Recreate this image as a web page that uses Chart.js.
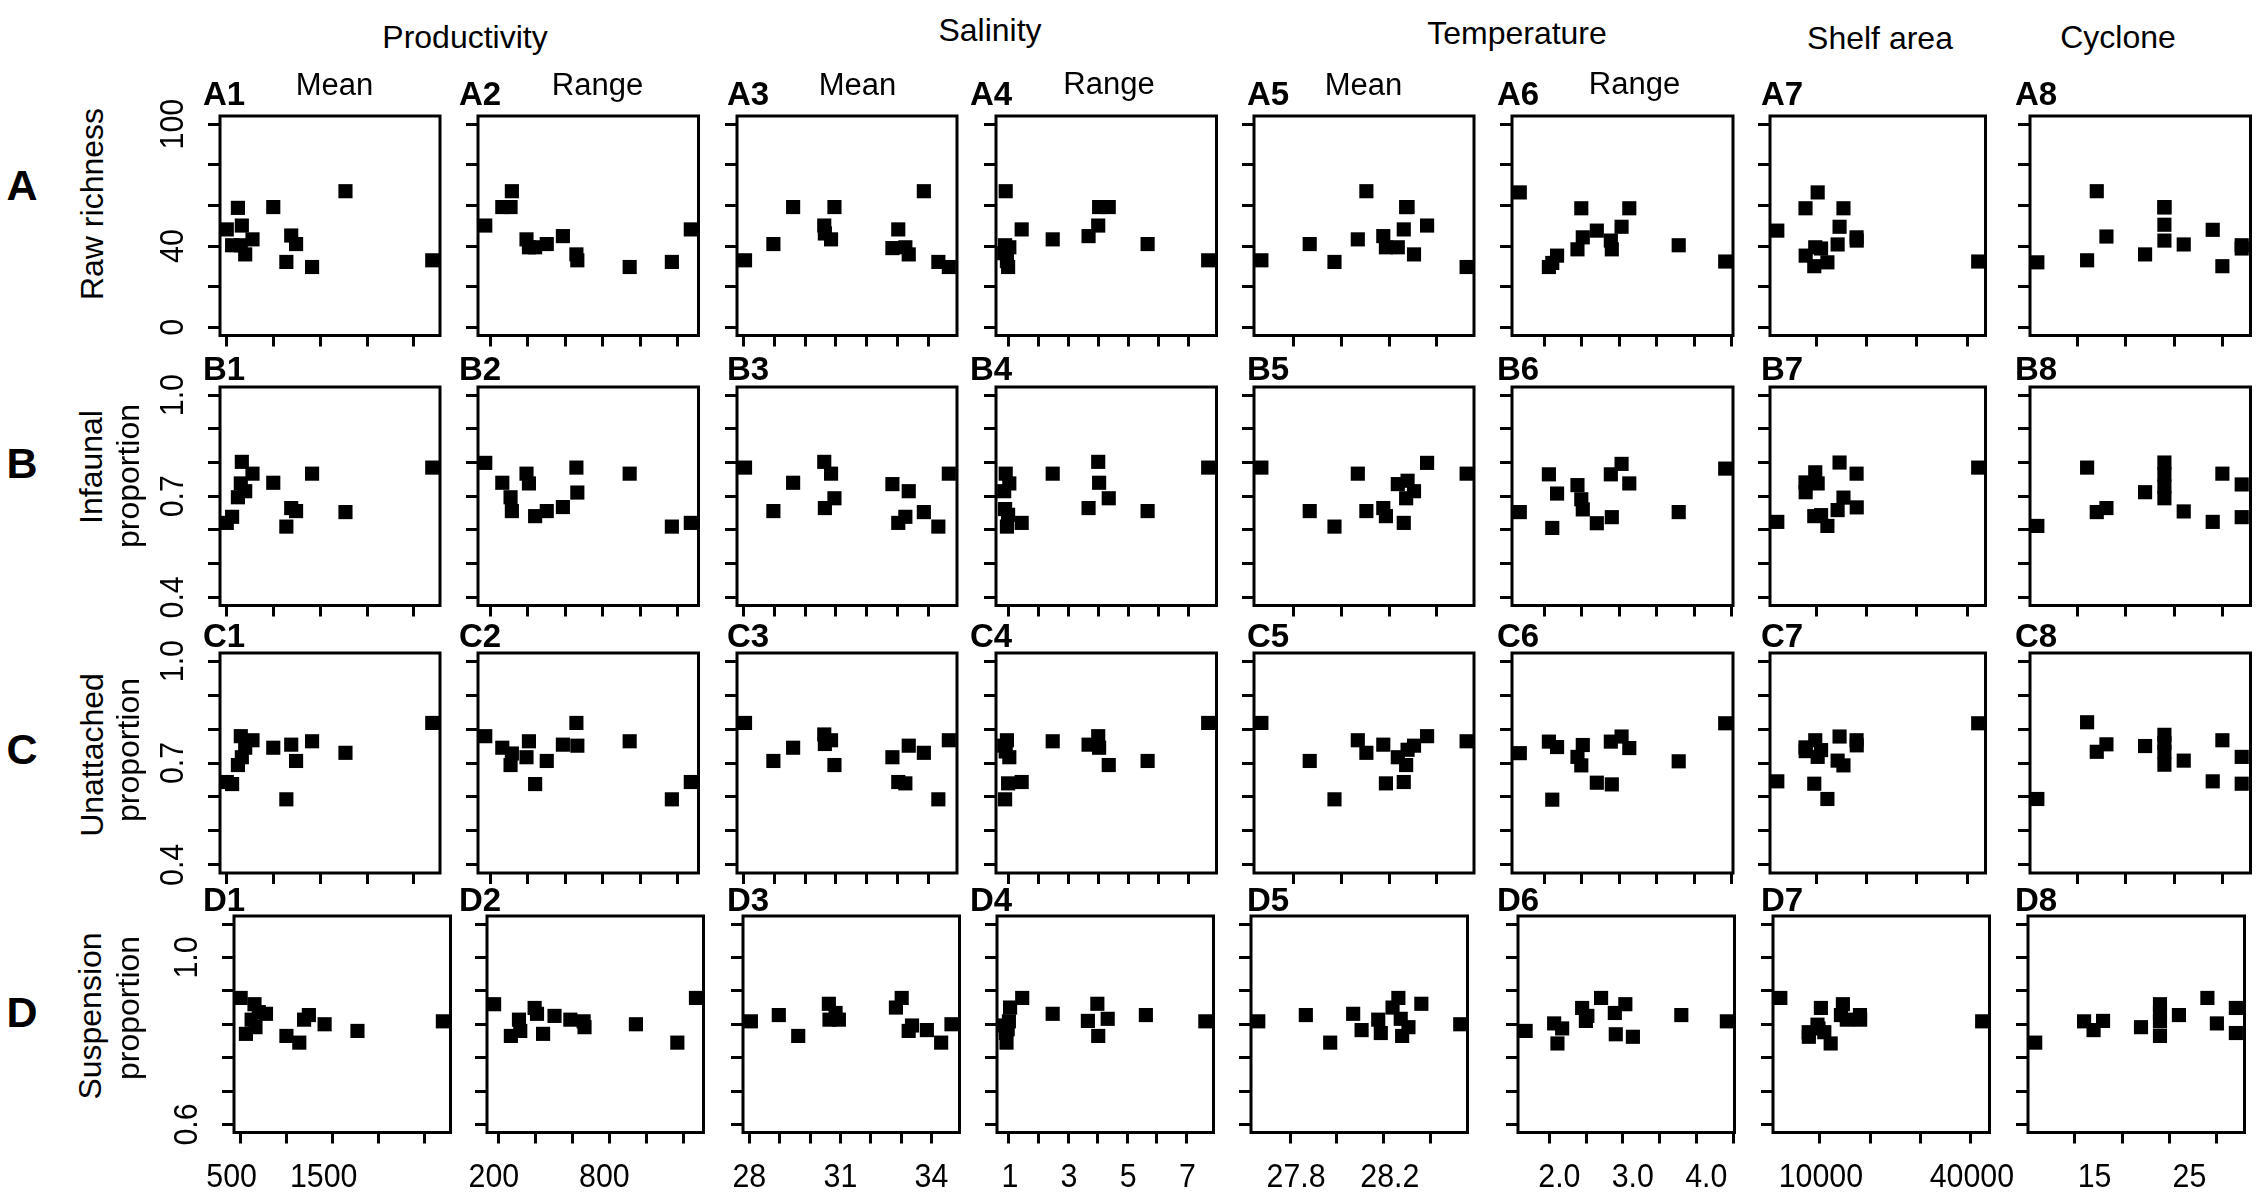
<!DOCTYPE html>
<html><head><meta charset="utf-8">
<script src="https://cdn.jsdelivr.net/npm/chart.js@4.4.1/dist/chart.umd.min.js"></script>
<style>
html,body{margin:0;padding:0;background:#fff;}
#fig{position:relative;width:2261px;height:1198px;overflow:hidden;background:#fff;font-family:"Liberation Sans",Arial,sans-serif;color:#000;}
.t{position:absolute;white-space:nowrap;line-height:1;transform:translate(-50%,-50%);font-size:32px;}
.st{position:absolute;white-space:nowrap;line-height:1;transform:translate(-50%,-50%);font-size:31px;}
.pl{position:absolute;white-space:nowrap;line-height:1;font-weight:bold;font-size:33px;transform:translate(0,-50%);}
.rl{position:absolute;white-space:nowrap;line-height:1;font-weight:bold;font-size:43px;transform:translate(-50%,-50%);}
.yt{position:absolute;white-space:nowrap;line-height:1;font-size:32px;transform:translate(-50%,-50%) rotate(-90deg);}
canvas{position:absolute;}
</style></head><body><div id="fig"></div>
<script>
// ---------------- DATA ----------------
// x values per column (sites ordered by x within each column)
const xProdMean  = [500, 557, 619, 650, 661, 697, 775, 997, 1137, 1189, 1241, 1412, 1769, 2697];
const xProdRange = [174, 265, 309, 316, 394, 407, 440, 502, 588, 660, 665, 944, 1169, 1270];
const xSalMean   = [28.05, 28.97, 29.61, 30.62, 30.64, 30.84, 30.95, 32.83, 33.02, 33.25, 33.36, 33.85, 34.32, 34.66];
const xSalRange  = [0.87, 0.90, 0.92, 0.96, 1.00, 1.04, 1.45, 2.48, 3.67, 3.99, 4.02, 4.34, 5.63, 7.64];
const xTempMean  = [27.664, 27.867, 27.971, 28.069, 28.105, 28.176, 28.187, 28.237, 28.262, 28.272, 28.278, 28.305, 28.36, 28.526];
const xTempRange = [1.677, 2.065, 2.11, 2.174, 2.446, 2.497, 2.517, 2.704, 2.891, 2.904, 3.034, 3.137, 3.796, 4.416];
const xShelf     = [2136, 7767, 7800, 9515, 9709, 10194, 10874, 12136, 14175, 14563, 15340, 17961, 17990, 42233];
const xCyclone   = [10.85, 16, 17, 18, 22, 24, 24, 24, 24, 26, 29, 30, 32, 32];

// Row A: raw richness
const yA1 = [48.2, 40.4, 58.8, 40.4, 50.1, 35.9, 43.3, 59.2, 32.2, 45.2, 41.0, 29.7, 67.0, 33.0];
const yA2 = [50.1, 59.2, 59.2, 67.0, 43.3, 39.4, 39.4, 41.0, 44.9, 35.9, 33.0, 29.7, 32.2, 48.2];
const yA3 = [33.0, 41.0, 59.2, 50.1, 46.2, 43.3, 59.2, 39.0, 48.2, 39.4, 35.9, 67.0, 32.2, 29.7];
const yA4 = [36.5, 40.4, 67.0, 32.6, 29.7, 39.4, 48.2, 43.3, 44.9, 50.1, 59.2, 59.2, 41.0, 33.0];
const yA5 = [33.0, 41.0, 32.2, 43.3, 67.0, 44.9, 39.4, 39.4, 48.2, 59.2, 59.2, 35.9, 50.1, 29.7];
const yA6 = [66.4, 29.7, 31.7, 35.3, 38.4, 58.6, 44.3, 47.6, 42.7, 38.4, 49.5, 58.6, 40.4, 32.4];
const yA7 = [47.6, 58.6, 35.3, 30.1, 39.4, 66.4, 38.8, 32.0, 40.8, 49.5, 58.6, 44.3, 42.7, 32.4];
const yA8 = [32.0, 33.0, 67.0, 44.7, 35.9, 59.2, 59.0, 50.5, 42.7, 40.8, 48.0, 30.1, 38.8, 40.4];
// Row B: infaunal proportion
const yB1 = [0.621, 0.639, 0.697, 0.738, 0.802, 0.715, 0.767, 0.740, 0.610, 0.665, 0.656, 0.767, 0.653, 0.785];
const yB2 = [0.799, 0.740, 0.697, 0.656, 0.767, 0.738, 0.641, 0.656, 0.668, 0.785, 0.711, 0.767, 0.610, 0.621];
const yB3 = [0.785, 0.656, 0.740, 0.802, 0.665, 0.767, 0.694, 0.736, 0.621, 0.639, 0.715, 0.653, 0.610, 0.767];
const yB4 = [0.715, 0.662, 0.767, 0.610, 0.645, 0.738, 0.621, 0.767, 0.665, 0.802, 0.740, 0.694, 0.656, 0.785];
const yB5 = [0.785, 0.656, 0.610, 0.767, 0.656, 0.665, 0.641, 0.736, 0.621, 0.694, 0.746, 0.715, 0.799, 0.767];
const yB6 = [0.653, 0.765, 0.606, 0.708, 0.733, 0.691, 0.661, 0.620, 0.765, 0.638, 0.796, 0.738, 0.653, 0.782];
const yB7 = [0.624, 0.741, 0.712, 0.641, 0.771, 0.738, 0.644, 0.612, 0.659, 0.800, 0.696, 0.767, 0.667, 0.785];
const yB8 = [0.612, 0.785, 0.653, 0.665, 0.712, 0.800, 0.765, 0.729, 0.694, 0.655, 0.624, 0.767, 0.735, 0.638];
// Row C: unattached proportion
const yC1 = [0.644, 0.638, 0.694, 0.779, 0.717, 0.745, 0.767, 0.745, 0.593, 0.754, 0.706, 0.764, 0.730, 0.818];
const yC2 = [0.779, 0.745, 0.694, 0.728, 0.717, 0.764, 0.638, 0.706, 0.754, 0.818, 0.751, 0.764, 0.593, 0.644];
const yC3 = [0.818, 0.706, 0.745, 0.784, 0.756, 0.767, 0.694, 0.717, 0.644, 0.640, 0.751, 0.730, 0.593, 0.767];
const yC4 = [0.751, 0.593, 0.734, 0.767, 0.640, 0.717, 0.644, 0.764, 0.754, 0.779, 0.745, 0.694, 0.706, 0.818];
const yC5 = [0.818, 0.706, 0.593, 0.767, 0.730, 0.754, 0.640, 0.717, 0.644, 0.694, 0.739, 0.751, 0.779, 0.764];
const yC6 = [0.729, 0.763, 0.592, 0.747, 0.718, 0.693, 0.753, 0.642, 0.763, 0.637, 0.778, 0.744, 0.705, 0.817];
const yC7 = [0.646, 0.746, 0.735, 0.639, 0.767, 0.718, 0.738, 0.594, 0.707, 0.778, 0.693, 0.767, 0.752, 0.817];
const yC8 = [0.594, 0.820, 0.733, 0.755, 0.750, 0.783, 0.759, 0.733, 0.695, 0.707, 0.646, 0.767, 0.718, 0.639];
// Row D: suspension proportion
const yD1 = [0.903, 0.817, 0.851, 0.888, 0.833, 0.869, 0.865, 0.812, 0.796, 0.851, 0.862, 0.840, 0.824, 0.847];
const yD2 = [0.888, 0.812, 0.851, 0.824, 0.879, 0.865, 0.817, 0.860, 0.851, 0.847, 0.833, 0.840, 0.796, 0.903];
const yD3 = [0.847, 0.862, 0.812, 0.889, 0.851, 0.867, 0.851, 0.880, 0.903, 0.824, 0.837, 0.826, 0.796, 0.840];
const yD4 = [0.837, 0.819, 0.796, 0.828, 0.847, 0.880, 0.903, 0.865, 0.848, 0.889, 0.812, 0.853, 0.862, 0.847];
const yD5 = [0.847, 0.862, 0.796, 0.865, 0.826, 0.851, 0.819, 0.880, 0.903, 0.853, 0.812, 0.833, 0.889, 0.840];
const yD6 = [0.824, 0.842, 0.794, 0.830, 0.879, 0.848, 0.860, 0.903, 0.867, 0.816, 0.888, 0.810, 0.862, 0.847];
const yD7 = [0.903, 0.821, 0.810, 0.839, 0.830, 0.879, 0.821, 0.794, 0.862, 0.888, 0.851, 0.862, 0.851, 0.847];
const yD8 = [0.796, 0.847, 0.826, 0.848, 0.833, 0.888, 0.867, 0.847, 0.812, 0.862, 0.903, 0.842, 0.879, 0.819];

// tick values and tick labels
const ticksProdMean  = [500, 1000, 1500, 2000, 2500];        const labProdMean  = ['500', '', '1500', '', ''];
const ticksProdRange = [200, 400, 600, 800, 1000, 1200];     const labProdRange = ['200', '', '', '800', '', ''];
const ticksSalMean   = [28, 29, 30, 31, 32, 33, 34];         const labSalMean   = ['28', '', '', '31', '', '', '34'];
const ticksSalRange  = [1, 2, 3, 4, 5, 6, 7];                const labSalRange  = ['1', '', '3', '', '5', '', '7'];
const ticksTempMean  = [27.8, 28.0, 28.2, 28.4];             const labTempMean  = ['27.8', '', '28.2', ''];
const ticksTempRange = [2.0, 2.5, 3.0, 3.5, 4.0, 4.5];       const labTempRange = ['2.0', '', '3.0', '', '4.0', ''];
const ticksShelf     = [10000, 20000, 30000, 40000];         const labShelf     = ['10000', '', '', '40000'];
const ticksCyclone   = [15, 20, 25, 30];                     const labCyclone   = ['15', '', '25', ''];
const ticksRich = [0, 20, 40, 60, 80, 100];                  const labRich = ['0', '', '40', '', '', '100'];
const ticksProp = [0.4, 0.5, 0.6, 0.7, 0.8, 0.9, 1.0];       const labProp = ['0.4', '', '', '0.7', '', '', '1.0'];
const ticksSusp = [0.6, 0.68, 0.76, 0.84, 0.92, 1.0, 1.08];  const labSusp = ['0.6', '', '', '', '', '1.0', ''];

const groupTitles = ['Productivity', 'Salinity', 'Temperature', 'Shelf area', 'Cyclone'];
const subTitles = ['Mean', 'Range', 'Mean', 'Range', 'Mean', 'Range'];
const rowLetters = ['A', 'B', 'C', 'D'];
const rowTitles = [['Raw richness'], ['Infaunal', 'proportion'], ['Unattached', 'proportion'], ['Suspension', 'proportion']];

// ---------------- STRUCTURE ----------------
const cols = [
  {x: xProdMean,  ticks: ticksProdMean,  lab: labProdMean,  min: 427.5, max: 2779.8, lo: -9},
  {x: xProdRange, ticks: ticksProdRange, lab: labProdRange, min: 135.4, max: 1311,   lo: -5},
  {x: xSalMean,   ticks: ticksSalMean,   lab: labSalMean,   min: 27.79, max: 34.925, lo: 0},
  {x: xSalRange,  ticks: ticksSalRange,  lab: labSalRange,  min: 0.598, max: 7.916,  lo: 1},
  {x: xTempMean,  ticks: ticksTempMean,  lab: labTempMean,  min: 27.633, max: 28.557, lo: 6},
  {x: xTempRange, ticks: ticksTempRange, lab: labTempRange, min: 1.573, max: 4.52,   lo: 10},
  {x: xShelf,     ticks: ticksShelf,     lab: labShelf,     min: 680,   max: 43689,  lo: 1},
  {x: xCyclone,   ticks: ticksCyclone,   lab: labCyclone,   min: 10.09, max: 32.91,  lo: 20}
];
const rows = [
  {ys: [yA1, yA2, yA3, yA4, yA5, yA6, yA7, yA8], ticks: ticksRich, lab: labRich, min: -4, max: 104},
  {ys: [yB1, yB2, yB3, yB4, yB5, yB6, yB7, yB8], ticks: ticksProp, lab: labProp, min: 0.376, max: 1.024},
  {ys: [yC1, yC2, yC3, yC4, yC5, yC6, yC7, yC8], ticks: ticksProp, lab: labProp, min: 0.376, max: 1.024},
  {ys: [yD1, yD2, yD3, yD4, yD5, yD6, yD7, yD8], ticks: ticksSusp, lab: labSusp, min: 0.5808, max: 1.0992}
];

// ---------------- LAYOUT ----------------
const colLeft = [219.5, 478, 737, 995.5, 1253.5, 1511.5, 1769.5, 2029.5];
const colW    = [220, 220.5, 220, 220.5, 220, 221, 215.5, 220.5];
const dLeft   = [233.5, 487, 743, 997, 1251, 1518, 1773, 2027.5];
const dW      = 216.5;
const rowTop  = [116, 386.5, 652.5, 915.5];
const rowH    = [219.5, 218.5, 220, 216.5];
const PL = 70, PR = 50, PT = 34, PB = 72;
const FONT = '"Liberation Sans", Arial, sans-serif';
const LW = 3;

const fig = document.getElementById('fig');
function addDiv(cls, txt, x, y) {
  const d = document.createElement('div');
  d.className = cls; d.textContent = txt;
  d.style.left = x + 'px'; d.style.top = y + 'px';
  fig.appendChild(d); return d;
}

const framePlugin = {
  id: 'frameLabels',
  afterDraw(chart, args, o) {
    const {ctx, chartArea: ca, scales} = chart;
    ctx.save();
    ctx.strokeStyle = '#000'; ctx.lineWidth = LW;
    ctx.strokeRect(ca.left, ca.top, ca.right - ca.left, ca.bottom - ca.top);
    ctx.fillStyle = '#000';
    ctx.font = '33px ' + FONT;
    ctx.textAlign = 'center'; ctx.textBaseline = 'middle';
    if (o.showX) {
      o.xTicks.forEach((v, i) => {
        const t = o.xLab[i]; if (!t) return;
        ctx.save();
        ctx.translate(scales.x.getPixelForValue(v) + o.xOff, ca.bottom + 45.5);
        ctx.scale(0.92, 1);
        ctx.fillText(t, 0, 0);
        ctx.restore();
      });
    }
    if (o.showY) {
      o.yTicks.forEach((v, i) => {
        const t = o.yLab[i]; if (!t) return;
        ctx.save();
        ctx.translate(ca.left - 46, scales.y.getPixelForValue(v));
        ctx.rotate(-Math.PI / 2);
        ctx.scale(0.92, 1);
        ctx.fillText(t, 0, 0);
        ctx.restore();
      });
    }
    ctx.restore();
  }
};

function makePanel(r, c) {
  const col = cols[c], row = rows[r];
  const left = r === 3 ? dLeft[c] : colLeft[c];
  const w = r === 3 ? dW : colW[c];
  const top = rowTop[r], h = rowH[r];
  const W = Math.round(w + PL + PR), H = Math.round(h + PT + PB);
  const cv = document.createElement('canvas');
  cv.width = W; cv.height = H;
  cv.style.left = (left - PL) + 'px'; cv.style.top = (top - PT) + 'px';
  cv.style.width = W + 'px'; cv.style.height = H + 'px';
  fig.appendChild(cv);
  const padR = W - PL - w, padB = H - PT - h;
  const ys = row.ys[c];
  new Chart(cv, {
    type: 'scatter',
    data: {datasets: [{
      data: col.x.map((v, i) => ({x: v, y: ys[i]})),
      pointStyle: 'rect', pointRadius: 10, pointHoverRadius: 10,
      backgroundColor: '#000', borderColor: '#000', borderWidth: 0, clip: false
    }]},
    options: {
      responsive: false, animation: false, events: [],
      layout: {padding: {left: 0, right: padR, top: PT, bottom: 0}},
      plugins: {
        legend: {display: false}, tooltip: {enabled: false},
        frameLabels: {showX: r === 3, showY: c === 0, xTicks: col.ticks, xLab: col.lab, xOff: col.lo,
                      yTicks: row.ticks, yLab: row.lab}
      },
      scales: {
        x: {type: 'linear', position: 'bottom', min: col.min, max: col.max,
            afterBuildTicks: s => { s.ticks = col.ticks.map(v => ({value: v})); },
            afterFit: s => { s.height = padB; },
            ticks: {display: false},
            border: {display: false},
            grid: {drawOnChartArea: false, drawTicks: true, tickLength: 11, color: '#000', lineWidth: LW}},
        y: {type: 'linear', position: 'left', min: row.min, max: row.max,
            afterBuildTicks: s => { s.ticks = row.ticks.map(v => ({value: v})); },
            afterFit: s => { s.width = PL; },
            ticks: {display: false},
            border: {display: false},
            grid: {drawOnChartArea: false, drawTicks: true, tickLength: 12, color: '#000', lineWidth: LW}}
      }
    },
    plugins: [framePlugin]
  });
}

for (let r = 0; r < 4; r++) for (let c = 0; c < 8; c++) makePanel(r, c);

// ---------------- TEXT ----------------
const groupPos = [[465, 37], [990, 30], [1517, 33], [1880, 37.5], [2118, 37]];
groupTitles.forEach((t, i) => addDiv('t', t, groupPos[i][0], groupPos[i][1]));
const subPos = [[334.5, 84], [597.5, 84], [857.5, 84], [1109, 82.5], [1363.5, 83.5], [1634.5, 82.5]];
subTitles.forEach((t, i) => addDiv('st', t, subPos[i][0], subPos[i][1]));
const plLeft = [203, 459, 727, 970, 1247, 1497, 1761, 2015];
const plY = [92.5, 367.7, 635.3, 898.5];
for (let r = 0; r < 4; r++) for (let c = 0; c < 8; c++) addDiv('pl', rowLetters[r] + (c + 1), plLeft[c], plY[r]);
const rlY = [185, 462.6, 748.7, 1012];
rowLetters.forEach((t, i) => addDiv('rl', t, 22, rlY[i]));
const ytX = [[92], [90.5, 128], [92, 128], [90, 128]];
const ytY = [[204.3], [467, 476], [755, 750], [1015.7, 1008]];
rowTitles.forEach((lines, i) => lines.forEach((t, j) => addDiv('yt', t, ytX[i][j], ytY[i][j])));
</script>
</body></html>
